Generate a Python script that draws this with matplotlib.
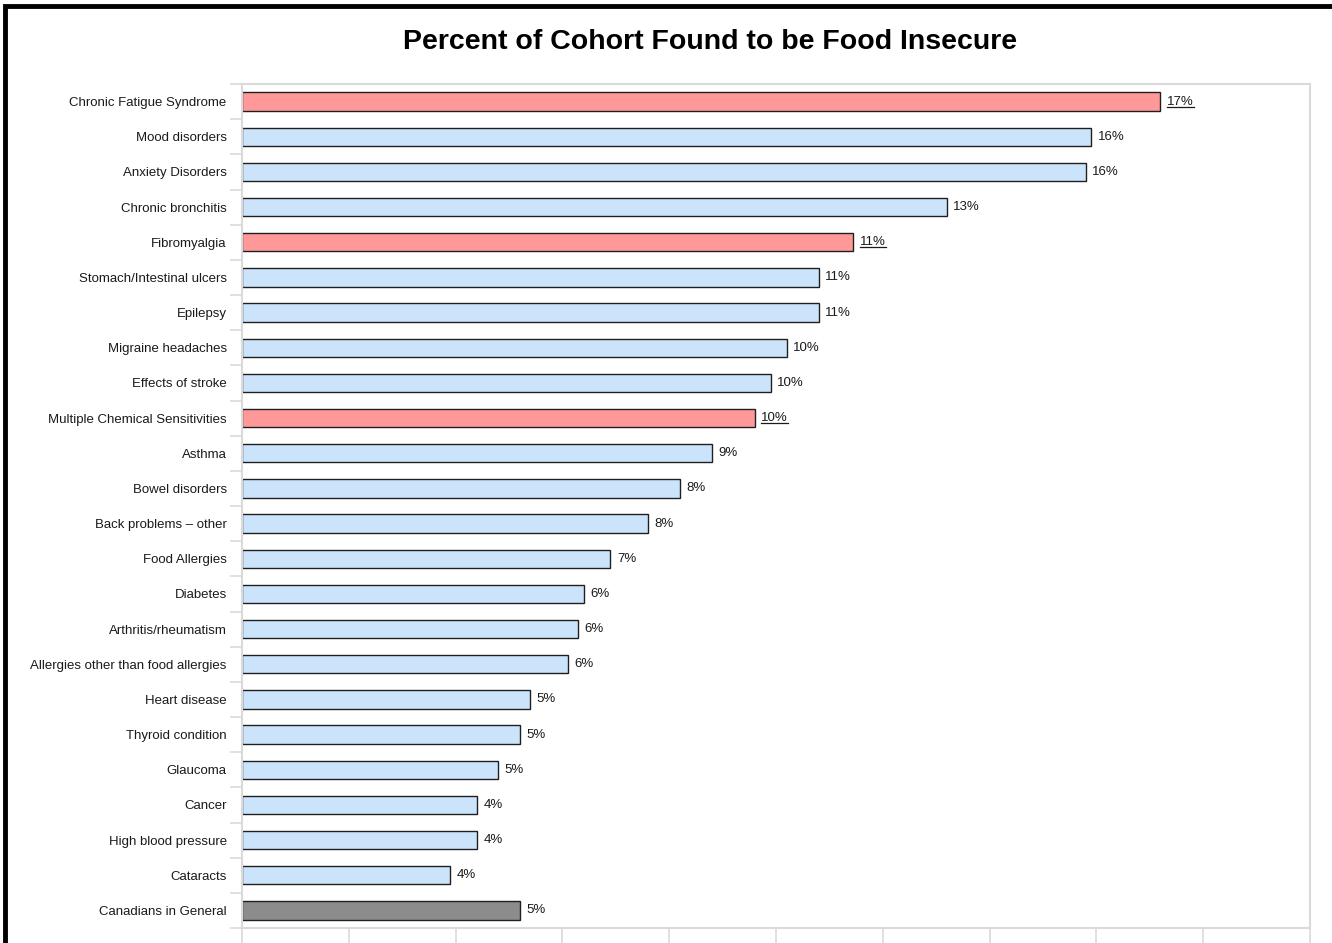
import matplotlib
matplotlib.use("Agg")
import matplotlib.pyplot as plt
from matplotlib.patches import Rectangle

plt.rcParams.update({"font.family": ["Liberation Sans", "DejaVu Sans"]})

conditions = ["Chronic Fatigue Syndrome", "Mood disorders", "Anxiety Disorders", "Chronic bronchitis",
              "Fibromyalgia", "Stomach/Intestinal ulcers", "Epilepsy", "Migraine headaches",
              "Effects of stroke", "Multiple Chemical Sensitivities", "Asthma", "Bowel disorders",
              "Back problems \u2013 other", "Food Allergies", "Diabetes", "Arthritis/rheumatism",
              "Allergies other than food allergies", "Heart disease", "Thyroid condition", "Glaucoma",
              "Cancer", "High blood pressure", "Cataracts", "Canadians in General"]
pct = [17.2, 15.9, 15.8, 13.2, 11.45, 10.8, 10.8, 10.2, 9.9, 9.6, 8.8, 8.2, 7.6, 6.9,
       6.4, 6.3, 6.1, 5.4, 5.2, 4.8, 4.4, 4.4, 3.9, 5.2]
highlight = ["Chronic Fatigue Syndrome", "Fibromyalgia", "Multiple Chemical Sensitivities"]
general = ["Canadians in General"]
RED, BLUE, GRAY, EDGE, GRID = "#ff9999", "#cce4fb", "#8c8c8c", "#1f1f1f", "#dadada"

W, H = 1332, 943
fig = plt.figure(figsize=(W / 100, H / 100), dpi=100)
ax = fig.add_axes([242 / W, 1 - 928 / H, (1310 - 242) / W, (928 - 84) / H])

colors = [RED if c in highlight else GRAY if c in general else BLUE for c in conditions]
ys = list(range(len(conditions)))
ax.barh(ys, pct, height=0.52, color=colors, edgecolor=EDGE, linewidth=1.0)
underlined = []
for y, v, c in zip(ys, pct, conditions):
    t = ax.text(v + 0.12, y, f"{round(v):d}%", va="center", ha="left", fontsize=9.5, color="#1a1a1a")
    if c in highlight:
        underlined.append(t)

ax.set_xlim(0, 20)
ax.set_ylim(len(conditions) - 0.5, -0.5)
ax.set_xticks(range(0, 21, 2))
ax.set_xticklabels([])
ax.set_yticks(ys)
ax.set_yticklabels(conditions, fontsize=9.5, color="#1a1a1a")
ax.set_yticks([y + 0.5 for y in range(-1, len(conditions))], minor=True)
ax.tick_params(axis="y", which="major", length=0, pad=11)
ax.tick_params(axis="y", which="minor", length=9, color=GRID, width=1.2)
ax.tick_params(axis="x", length=20, color=GRID, width=1.2)
for sp in ax.spines.values():
    sp.set_color(GRID)
    sp.set_linewidth(1.5)

fig.text(710 / W, 1 - 42 / H, "Percent of Cohort Found to be Food Insecure",
         ha="center", va="center", fontsize=20.5, fontweight="bold",
         family=["Liberation Sans Narrow", "Liberation Sans", "DejaVu Sans"])

# outer frame, cropped at right and bottom
fig.add_artist(Rectangle((5 / W, -0.1), 1.2, 1 - 6 / H + 0.1, transform=fig.transFigure,
                         fill=False, edgecolor="black", linewidth=3.5))

# underline the highlighted value labels
fig.canvas.draw()
inv = ax.transData.inverted()
for t in underlined:
    bb = t.get_window_extent()
    (x0, y0), (x1, _) = inv.transform([(bb.x0, bb.y0 + 1), (bb.x1, bb.y0 + 1)])
    ax.plot([x0, x1], [y0, y0], color="#1a1a1a", lw=0.9, clip_on=False)

fig.savefig("out.png", dpi=100)
